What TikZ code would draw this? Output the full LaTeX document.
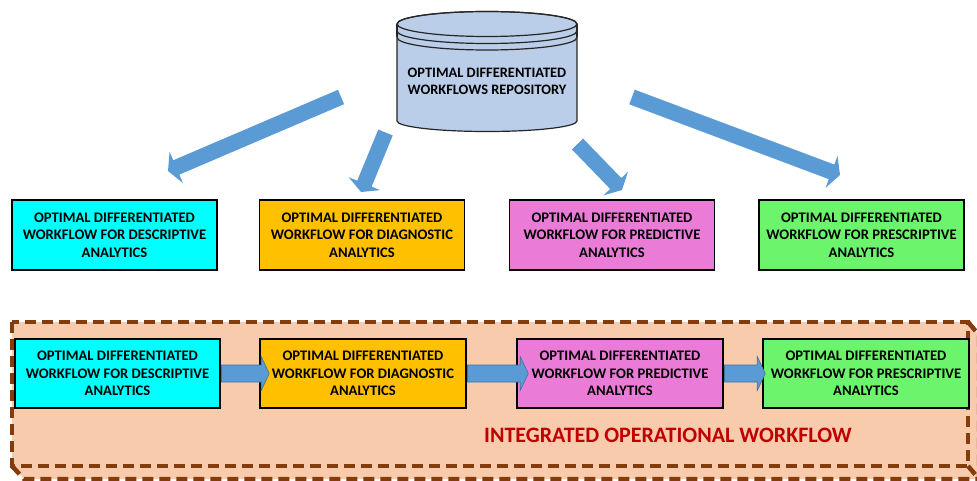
\documentclass[tikz,border=0pt]{standalone}
\usepackage{fontspec}
\setmainfont{Carlito}
\usetikzlibrary{calc}

\definecolor{flowblue}{HTML}{5B9BD5}
\definecolor{flowedge}{HTML}{41719C}
\definecolor{repofill}{HTML}{BACDE9}
\definecolor{framebrown}{HTML}{843C0C}
\definecolor{framefill}{HTML}{F8CBAD}
\definecolor{desccol}{HTML}{00FFFF}
\definecolor{diagcol}{HTML}{FFC000}
\definecolor{predcol}{HTML}{EA7CD8}
\definecolor{prescol}{HTML}{6CF56C}
\definecolor{titlered}{HTML}{C00000}

% block arrow: style, tail, tip, shaft half width, head half width, head length
\newcommand\blockarrow[6]{%
  \coordinate (ba-base) at ($(#3)!#6!(#2)$);
  \path[#1] ($(#2)!#4!90:(#3)$) -- ($(ba-base)!#4!-90:(#2)$)
    -- ($(ba-base)!#5!-90:(#2)$) -- (#3) -- ($(ba-base)!#5!90:(#2)$)
    -- ($(ba-base)!#4!90:(#2)$) -- ($(#2)!#4!-90:(#3)$) -- cycle;}

\tikzset{
  labelfont/.style={font=\fontsize{14.6}{17.3}\selectfont\bfseries},
  wfbox/.style={draw=black, line width=1.5pt, minimum width=205pt,
    minimum height=70pt, inner sep=0pt, align=center, labelfont},
  fanarrow/.style={fill=flowblue},
  chainarrow/.style={fill=flowblue, draw=flowedge, line width=0.6pt},
  frameline/.style={draw=framebrown, line width=4.5pt, dash pattern=on 11pt off 6pt},
}

\begin{document}
\begin{tikzpicture}[x=1pt, y=-1pt]
\clip (0,0) rectangle (977,481);
\fill[white] (0,0) rectangle (977,481);

% repository cylinder
\path[fill=repofill, draw=black!85, line width=1.2pt]
  (397,24) -- (397,121) arc[start angle=180, end angle=0, x radius=90, y radius=10.5]
  -- (577,24) arc[start angle=0, end angle=-180, x radius=90, y radius=12.5] -- cycle;
\draw[black!85, line width=1.2pt] (487,24) ellipse[x radius=90, y radius=12.5];
\draw[black!85, line width=1.2pt] (397,24) -- (397,37.5);
\draw[black!85, line width=1.2pt] (577,24) -- (577,37.5);
\draw[black!85, line width=1.2pt] (397,31) arc[start angle=180, end angle=0, x radius=90, y radius=12.5];
\draw[black!85, line width=1.2pt] (397,37.5) arc[start angle=180, end angle=0, x radius=90, y radius=12.5];
\node[align=center, font=\fontsize{14.4}{17.3}\selectfont\bfseries] (repo) at (487,81)
  {OPTIMAL DIFFERENTIATED\\WORKFLOWS REPOSITORY};

% fan-out arrows
\coordinate (fa1) at (341,97);    \coordinate (fb1) at (168,171);
\coordinate (fa2) at (385.5,132.5); \coordinate (fb2) at (361,192);
\coordinate (fa3) at (577.5,144); \coordinate (fb3) at (622,190);
\coordinate (fa4) at (632,97);    \coordinate (fb4) at (840,175);
\blockarrow{fanarrow}{fa1}{fb1}{7.8pt}{17pt}{9pt}
\blockarrow{fanarrow}{fa2}{fb2}{7.8pt}{17pt}{9pt}
\blockarrow{fanarrow}{fa3}{fb3}{7.8pt}{17pt}{9pt}
\blockarrow{fanarrow}{fa4}{fb4}{7.8pt}{17pt}{9pt}

% individual workflows
\node[wfbox, fill=desccol] (t1) at (114.5,235) {OPTIMAL DIFFERENTIATED\\WORKFLOW FOR DESCRIPTIVE\\ANALYTICS};
\node[wfbox, fill=diagcol] (t2) at (362,235) {OPTIMAL DIFFERENTIATED\\WORKFLOW FOR DIAGNOSTIC\\ANALYTICS};
\node[wfbox, fill=predcol] (t3) at (612,235) {OPTIMAL DIFFERENTIATED\\WORKFLOW FOR PREDICTIVE\\ANALYTICS};
\node[wfbox, fill=prescol] (t4) at (861.5,235) {OPTIMAL DIFFERENTIATED\\WORKFLOW FOR PRESCRIPTIVE\\ANALYTICS};

% integrated workflow frame
\fill[framefill] (12,322) -- (968,322) -- (979,335) -- (979,479) -- (24,479) -- (12,466) -- cycle;
\draw[frameline] (12,322) rectangle (968,466);
\draw[frameline] (12,466) -- (24,479) -- (979,479) -- (979,335) -- (968,322);
\draw[frameline] (968,466) -- (979,479);

\node[wfbox, fill=desccol, minimum height=69pt] (b1) at (117.5,373.5) {OPTIMAL DIFFERENTIATED\\WORKFLOW FOR DESCRIPTIVE\\ANALYTICS};
\node[wfbox, fill=diagcol, minimum height=69pt, minimum width=206pt] (b2) at (363,373.5) {OPTIMAL DIFFERENTIATED\\WORKFLOW FOR DIAGNOSTIC\\ANALYTICS};
\node[wfbox, fill=predcol, minimum height=69pt, minimum width=206pt] (b3) at (620,373.5) {OPTIMAL DIFFERENTIATED\\WORKFLOW FOR PREDICTIVE\\ANALYTICS};
\node[wfbox, fill=prescol, minimum height=69pt, minimum width=206pt] (b4) at (866,373.5) {OPTIMAL DIFFERENTIATED\\WORKFLOW FOR PRESCRIPTIVE\\ANALYTICS};

\coordinate (ca1) at ($(b1.east)+(0.75,0)$); \coordinate (cb1) at ($(b2.west)+(10,0)$);
\coordinate (ca2) at ($(b2.east)+(0.75,0)$); \coordinate (cb2) at ($(b3.west)+(12,0)$);
\coordinate (ca3) at ($(b3.east)+(0.75,0)$); \coordinate (cb3) at ($(b4.west)+(3,0)$);
\blockarrow{chainarrow}{ca1}{cb1}{8.5pt}{17pt}{8pt}
\blockarrow{chainarrow}{ca2}{cb2}{8.5pt}{17pt}{8pt}
\blockarrow{chainarrow}{ca3}{cb3}{8.5pt}{17pt}{8pt}

\node[text=titlered, font=\fontsize{22}{26}\selectfont\bfseries] (title) at (668,435.5)
  {INTEGRATED OPERATIONAL WORKFLOW};
\end{tikzpicture}
\end{document}
